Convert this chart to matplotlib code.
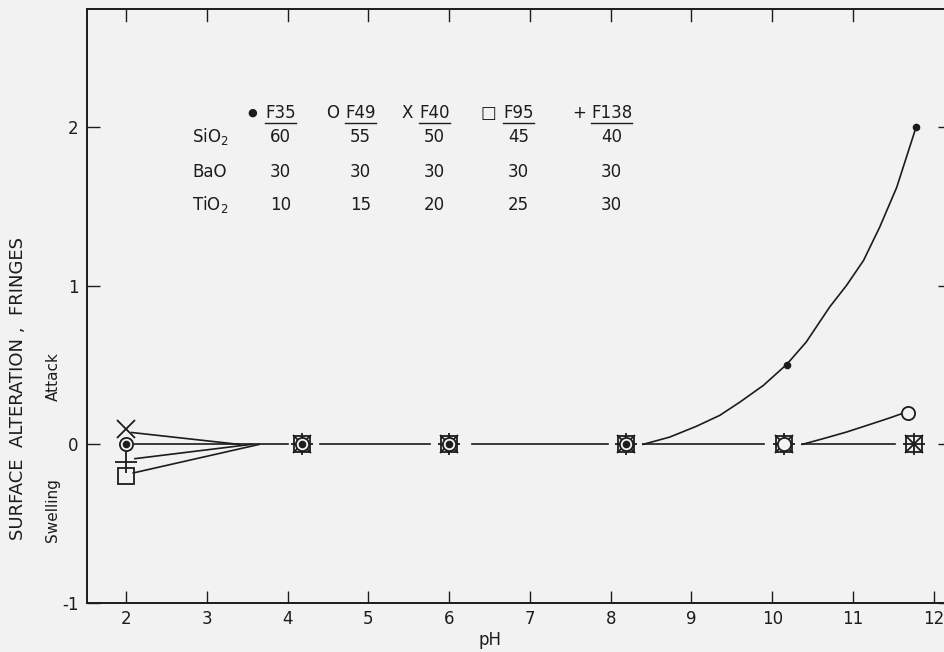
import numpy as np
import matplotlib
matplotlib.use("Agg")
import matplotlib.pyplot as plt

# ---- data ----
ph_points = [2.0, 4.18, 6.0, 8.19, 10.15, 11.76]

f35_x = [2.0, 4.18, 6.0, 8.19, 10.18, 11.78]
f35_y = [0.0, 0.0, 0.0, 0.0, 0.50, 2.0]
f49_x = [2.0, 4.18, 6.0, 8.19, 10.15, 11.68]
f49_y = [0.0, 0.0, 0.0, 0.0, 0.0, 0.20]
f40_y = [0.10, 0.0, 0.0, 0.0, 0.0, 0.0]
f95_y = [-0.20, 0.0, 0.0, 0.0, 0.0, 0.0]
f138_y = [-0.11, 0.0, 0.0, 0.0, 0.0, 0.0]

# hand-drawn curves, points
f35_curve_x = [8.40, 8.73, 9.06, 9.35, 9.60, 9.89, 10.18, 10.42, 10.71,
               10.92, 11.13, 11.33, 11.54, 11.78]
f35_curve_y = [0.0, 0.046, 0.114, 0.183, 0.267, 0.372, 0.505, 0.645, 0.866,
               1.003, 1.16, 1.37, 1.62, 2.0]
f49_curve_x = [10.37, 10.63, 10.92, 11.21, 11.46, 11.61]
f49_curve_y = [0.0, 0.036, 0.078, 0.126, 0.168, 0.195]

# fan of lines leaving the pH 2 points
fan_start_x = [2.07, 2.09, 2.11, 2.09]
fan_start_y = [0.075, 0.0, -0.09, -0.18]
fan_end_x = [3.40, 4.00, 3.55, 3.65]

# baseline pieces at zero between the marker groups
base_start = [4.40, 6.28, 8.40, 10.37]
base_end = [5.76, 7.97, 9.90, 11.52]

# composition table
glasses = ["F35", "F49", "F40", "F95", "F138"]
glass_symbols = ["\u25cf", "O", "X", "\u25a1", "+"]
oxides = ["SiO$_2$", "BaO", "TiO$_2$"]
sio2 = [60, 55, 50, 45, 40]
bao = [30, 30, 30, 30, 30]
tio2 = [10, 15, 20, 25, 30]

x_ticks = [2, 3, 4, 5, 6, 7, 8, 9, 10, 11, 12]
x_tick_labels = ["2", "3", "4", "5", "6", "7", "8", "9", "10", "11", "12"]
y_ticks = [-1, 0, 1, 2]
y_tick_labels = ["-1", "0", "1", "2"]

BG = "#f2f2f2"
INK = "#1c1c1c"

plt.rcParams["font.family"] = ["DejaVu Sans"]
plt.rcParams["mathtext.fontset"] = "dejavusans"

fig = plt.figure(figsize=(9.45, 6.52), dpi=100, facecolor=BG)
ax = fig.add_axes([87 / 945, 49 / 652, (950 - 87) / 945, (603 - 9) / 652])
ax.set_facecolor(BG)
ax.set_xlim(1.517, 12.2)
ax.set_ylim(-1.0, 2.745)

for sp in ax.spines.values():
    sp.set_color(INK)
    sp.set_linewidth(1.4)
ax.spines["right"].set_visible(False)

lw = 1.2
# lines
for sx, sy, ex in zip(fan_start_x, fan_start_y, fan_end_x):
    ax.plot([sx, ex], [sy, 0.0], color=INK, lw=lw, zorder=2)
for s, e in zip(base_start, base_end):
    ax.plot([s, e], [0, 0], color=INK, lw=lw, zorder=2)
ax.plot(f35_curve_x, f35_curve_y, color=INK, lw=lw, zorder=2)
ax.plot(f49_curve_x, f49_curve_y, color=INK, lw=lw, zorder=2)

# markers (F138 +, F40 x, F95 square, F49 open circle, F35 dot)
mew = 1.3
ax.plot(ph_points, f138_y, ls="none", marker="+", ms=16, mew=mew, color=INK, zorder=3)
ax.plot(ph_points, f40_y, ls="none", marker="x", ms=13, mew=mew, color=INK, zorder=4)
ax.plot(ph_points, f95_y, ls="none", marker="s", ms=11, mew=mew, mfc="none", mec=INK, zorder=5)
ax.plot(f49_x, f49_y, ls="none", marker="o", ms=9.5, mew=mew, mfc=BG, mec=INK, zorder=6)
ax.plot(f35_x, f35_y, ls="none", marker="o", ms=5.5, mew=0, color=INK, zorder=7)

# ticks
ax.set_xticks(x_ticks)
ax.set_xticklabels(x_tick_labels)
ax.set_yticks(y_ticks)
ax.set_yticklabels(y_tick_labels)
ax.tick_params(axis="both", direction="in", length=9, width=1.0, color=INK,
               labelsize=12, labelcolor=INK)
ax.tick_params(axis="x", pad=5)
ax.tick_params(axis="y", pad=6, right=True)
# top ticks only up to 11
for xt in x_ticks[:-1]:
    ax.plot([xt, xt], [2.745, 2.745 - 0.075], color=INK, lw=1.0, clip_on=False, zorder=1)

# axis labels
fig.text(490 / 945, 1 - 640 / 652, "pH", ha="center", va="center", fontsize=12, color=INK)
fig.text(18 / 945, 1 - 388 / 652, "SURFACE  ALTERATION ,  FRINGES", rotation=90,
         ha="center", va="center", fontsize=13, color=INK)
fig.text(53 / 945, 1 - 510 / 652, "Swelling", rotation=90, ha="center", va="center",
         fontsize=11, color=INK)
fig.text(53 / 945, 1 - 377 / 652, "Attack", rotation=90, ha="center", va="center",
         fontsize=11, color=INK)

# composition table
col_x = [3.91, 4.90, 5.82, 6.86, 8.01]
sym_x = [3.56, 4.56, 5.48, 6.48, 7.61]
sym_size = [8, 12, 12, 12, 12]
row_y = [1.94, 1.72, 1.51]
head_y = 2.09
head_texts = []
for cx, sx, g, sym, ss in zip(col_x, sym_x, glasses, glass_symbols, sym_size):
    t = ax.text(cx, head_y, g, ha="center", va="center", fontsize=12, color=INK)
    head_texts.append(t)
    ax.text(sx, head_y, sym, ha="center", va="center", fontsize=ss, color=INK)
for ry, ox, vals in zip(row_y, oxides, [sio2, bao, tio2]):
    ax.text(2.82, ry, ox, ha="left", va="center", fontsize=12, color=INK)
    for cx, v in zip(col_x, vals):
        ax.text(cx, ry, str(v), ha="center", va="center", fontsize=12, color=INK)

# underline the glass names
fig.canvas.draw()
inv = ax.transData.inverted()
for t in head_texts:
    bb = t.get_window_extent()
    (x0, y0), (x1, _) = inv.transform([[bb.x0, bb.y0], [bb.x1, bb.y0]])
    ax.plot([x0, x1], [y0 - 0.01, y0 - 0.01], color=INK, lw=1.0)

fig.savefig("out.png", dpi=100, facecolor=BG)
